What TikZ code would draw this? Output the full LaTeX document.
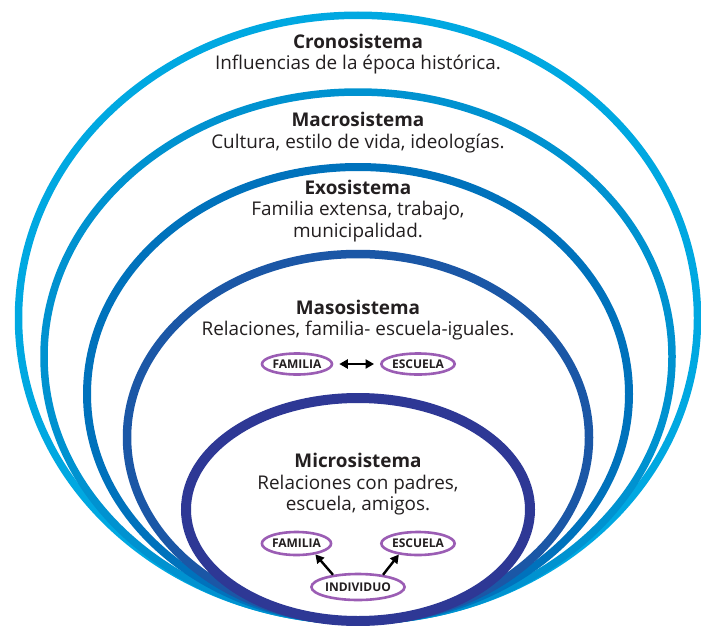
\documentclass[tikz,border=0pt]{standalone}
\usepackage{fontspec}
\setmainfont{Open Sans}
\usetikzlibrary{arrows.meta,shapes.geometric}
\definecolor{cCrono}{RGB}{0,168,225}
\definecolor{cMacro}{RGB}{0,146,208}
\definecolor{cExo}{RGB}{0,114,188}
\definecolor{cMeso}{RGB}{27,87,166}
\definecolor{cMicro}{RGB}{46,56,149}
\definecolor{txt}{RGB}{35,31,32}
\definecolor{lila}{RGB}{155,93,180}
\begin{document}
\begin{tikzpicture}[x=1pt,y=-1pt,
  ring/.style={line width=#1},
  label/.style={anchor=base,align=center,text=txt,inner sep=0pt,font=\fontsize{18.9}{21.6}\selectfont},
  oval/.style={ellipse,draw=lila,line width=2.6pt,text=txt,inner sep=0pt,font=\bfseries\fontsize{12}{14}\selectfont,minimum height=#1},
  tip/.tip={Triangle[length=8.5pt,width=9pt]},
  arr/.style={line width=2.4pt,-tip},
  darr/.style={line width=2.4pt,tip-tip}
]
\useasboundingbox[fill=white] (0,0) rectangle (701,626);
\draw[cCrono,ring=7.5pt] (358,318) ellipse [x radius=339.5pt, y radius=302.75pt];
\draw[cMacro,ring=7.5pt] (358,356.5) ellipse [x radius=314pt, y radius=264.5pt];
\draw[cExo,ring=8pt] (358,394) ellipse [x radius=271pt, y radius=227pt];
\draw[cMeso,ring=8.5pt] (358,437.5) ellipse [x radius=231pt, y radius=183.5pt];
\draw[cMicro,ring=10pt] (358,509.5) ellipse [x radius=172pt, y radius=111.5pt];

\node[label] (crono) at (358,70) {\textbf{Cronosistema}\\Influencias de la época histórica.};
\node[label] (macro) at (358,148.3) {\textbf{Macrosistema}\\Cultura, estilo de vida, ideologías.};
\node[label] (exo) at (358,237.3) {\textbf{Exosistema}\\Familia extensa, trabajo,\\municipalidad.};
\node[label] (meso) at (358,335.7) {\textbf{Masosistema}\\Relaciones, familia- escuela-iguales.};
\node[label] (micro) at (358,510.7) {\textbf{Microsistema}\\Relaciones con padres,\\escuela, amigos.};

\node[oval=21pt,minimum width=70pt] (famA) at (297,364) {FAMILIA};
\node[oval=21pt,minimum width=70pt] (escA) at (418,364) {ESCUELA};
\draw[darr,shorten <=6pt,shorten >=6pt] (famA.east) -- (escA.west);

\node[oval=23pt,minimum width=69pt] (famB) at (296.5,543.5) {FAMILIA};
\node[oval=23pt,minimum width=70pt] (escB) at (418,543.5) {ESCUELA};
\node[oval=26pt,minimum width=92pt] (ind) at (358,587) {INDIVIDUO};
\draw[arr] (ind.154) -- (famB.-30);
\draw[arr] (ind.26) -- (escB.-150);
\end{tikzpicture}
\end{document}
